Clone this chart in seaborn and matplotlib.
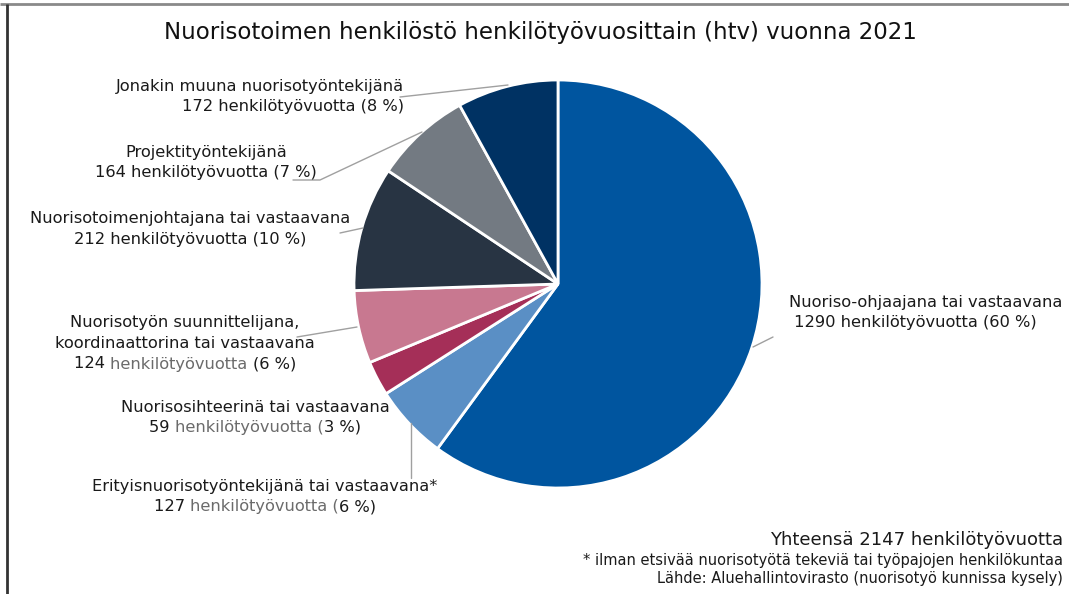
import matplotlib

matplotlib.use("Agg")
import matplotlib.pyplot as plt
import seaborn as sns

sns.set_theme(style="white")
plt.rcParams["font.family"] = ["DejaVu Sans"]

# data
roles = [
    "Nuoriso-ohjaajana tai vastaavana",
    "Erityisnuorisotyöntekijänä tai vastaavana*",
    "Nuorisosihteerinä tai vastaavana",
    "Nuorisotyön suunnittelijana,\nkoordinaattorina tai vastaavana",
    "Nuorisotoimenjohtajana tai vastaavana",
    "Projektityöntekijänä",
    "Jonakin muuna nuorisotyöntekijänä",
]
htv = [1290, 127, 59, 124, 212, 164, 172]
share = [60, 6, 3, 6, 10, 7, 8]
colors = ["#00559f", "#5a8fc5", "#a52f58", "#c87890", "#283443", "#737a82", "#003263"]
total = 2147

W, H = 1069, 594
fig = plt.figure(figsize=(W / 100, H / 100), dpi=100)
ax = fig.add_axes([0, 0, 1, 1])


def y(px):
    return H - px


ax.pie(
    htv,
    colors=colors,
    startangle=90,
    counterclock=False,
    center=(558, y(284)),
    radius=204,
    wedgeprops=dict(edgecolor="white", linewidth=2),
    frame=True,
)
ax.set_xlim(0, W)
ax.set_ylim(0, H)
ax.set_aspect("equal")
ax.axis("off")

# frame lines
ax.plot([0, W], [y(4), y(4)], color="#8a8a8a", lw=2, solid_capstyle="butt")
ax.plot([7, 7], [y(4), 0], color="#333333", lw=2, solid_capstyle="butt")

ax.text(540, y(33), "Nuorisotoimen henkilöstö henkilötyövuosittain (htv) vuonna 2021",
        ha="center", va="center", fontsize=16.5, color="#111111")

fs = 11.7
line_h = 20.5
renderer = fig.canvas.get_renderer()


def draw_line(xc, yc, parts, ha="center"):
    # parts: list of (text, color); draws them side by side
    texts = [ax.text(0, y(yc), t, fontsize=fs, color=c, ha="left", va="center") for t, c in parts]
    widths = []
    inv = ax.transData.inverted()
    for t in texts:
        bb = t.get_window_extent(renderer)
        widths.append(inv.transform((bb.x1, 0))[0] - inv.transform((bb.x0, 0))[0])
    tot = sum(widths)
    x0 = xc - tot / 2 if ha == "center" else (xc - tot if ha == "right" else xc)
    for t, w in zip(texts, widths):
        t.set_x(x0)
        x0 += w


black = "#1a1a1a"
grey = "#6b6b6b"
label_cfg = [
    # x, first line y, align, grey part of the count line
    (789, 302, "left", None),
    (265, 486, "center", "henkilötyövuotta ("),
    (255, 407, "center", "henkilötyövuotta ("),
    (185, 323, "center", "henkilötyövuotta "),
    (190, 219, "center", None),
    (206, 152, "center", None),
    (404, 86, "right", None),
]
for role, v, p, (lx, ly, al, gr) in zip(roles, htv, share, label_cfg):
    lines = role.split("\n")
    for i, ln in enumerate(lines):
        draw_line(lx, ly + i * line_h, [(ln, black)], al)
    ly2 = ly + len(lines) * line_h
    full = f"{v} henkilötyövuotta ({p} %)"
    if gr:
        a = full.index(gr)
        parts = [(full[:a], black), (gr, grey), (full[a + len(gr):], black)]
    else:
        parts = [(full, black)]
    if al == "left":
        parts[0] = (" " + parts[0][0], parts[0][1])
    draw_line(lx, ly2, parts, al)

# leader lines
leaders = [
    [(753, 347), (773, 337)],
    [(411, 423), (411, 478)],
    [(357, 327), (297, 337)],
    [(363, 228), (340, 233)],
    [(422, 132), (320, 180), (293, 180)],
    [(508, 85), (400, 97)],
]
for pts in leaders:
    ax.plot([p[0] for p in pts], [y(p[1]) for p in pts], color="#a0a0a0", lw=1)

ax.text(1063, y(540), f"Yhteensä {total} henkilötyövuotta", ha="right", va="center",
        fontsize=13, color=black)
ax.text(1063, y(561), "* ilman etsivää nuorisotyötä tekeviä tai työpajojen henkilökuntaa",
        ha="right", va="center", fontsize=10.5, color=black)
ax.text(1063, y(579), "Lähde: Aluehallintovirasto (nuorisotyö kunnissa kysely)",
        ha="right", va="center", fontsize=10.5, color=black)

fig.savefig("out.png", dpi=100, facecolor="white")
